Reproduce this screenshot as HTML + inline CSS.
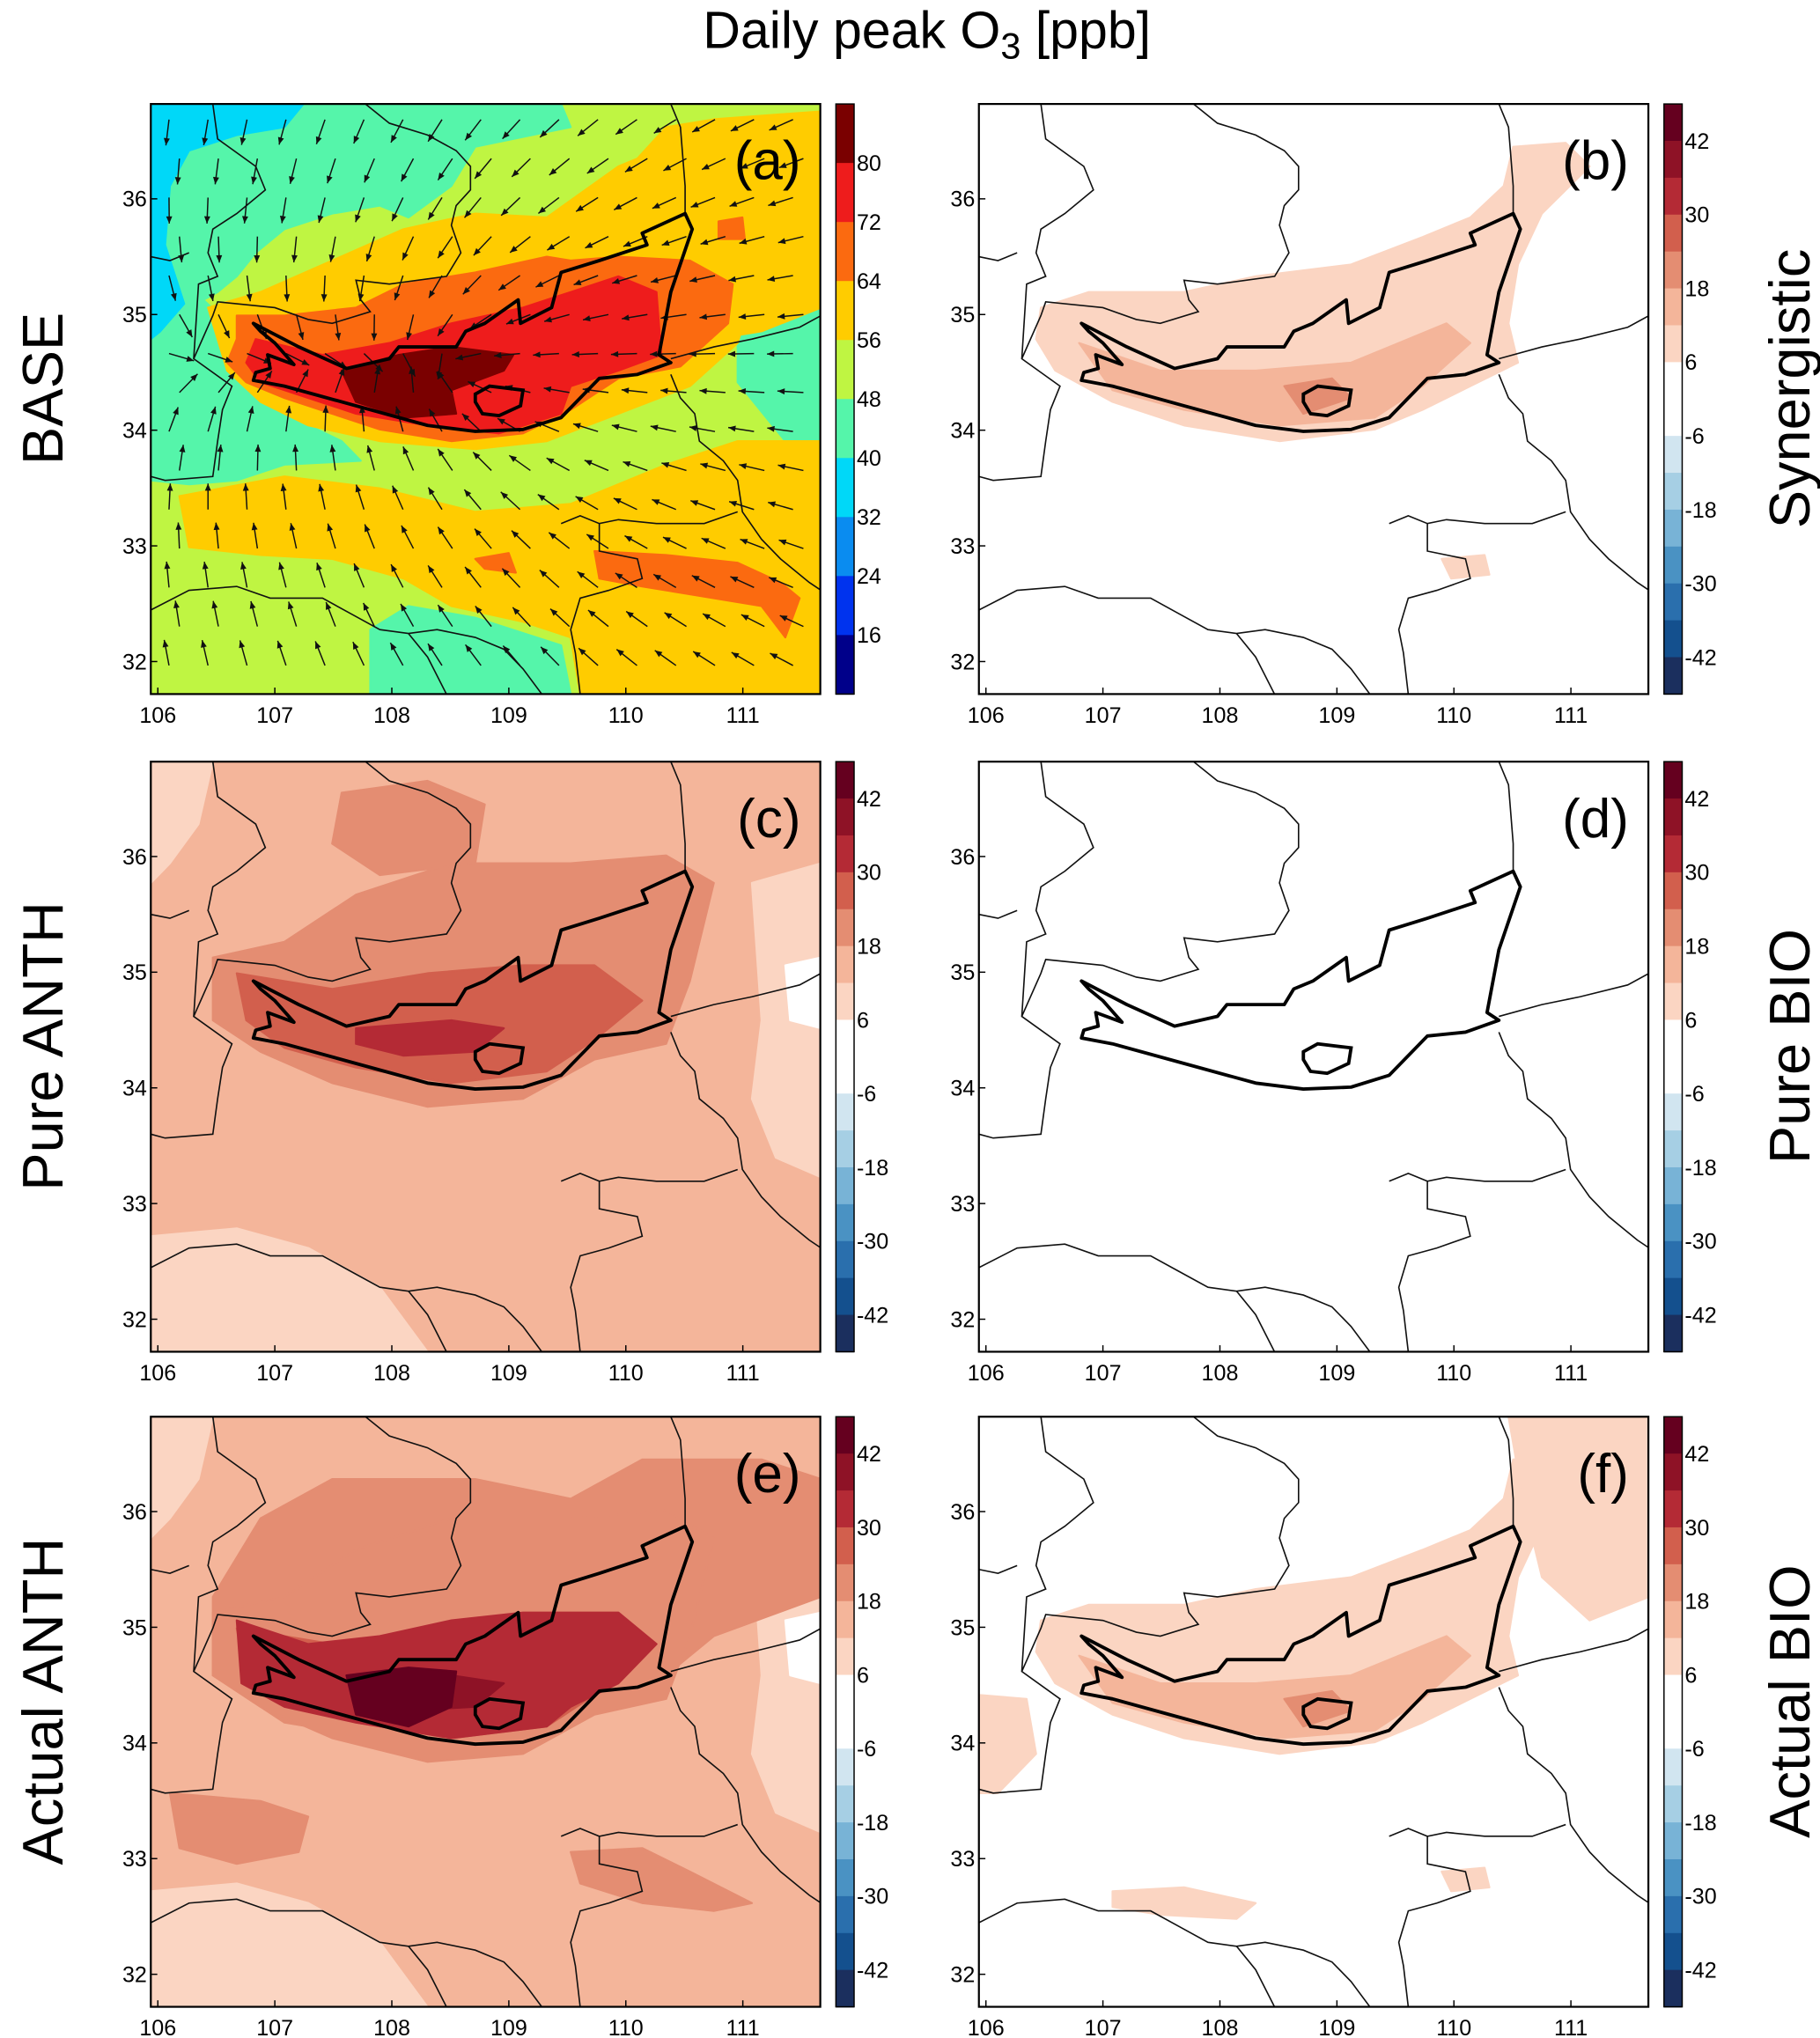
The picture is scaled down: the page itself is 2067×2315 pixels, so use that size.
<!DOCTYPE html>
<html><head><meta charset="utf-8"><style>
html,body{margin:0;padding:0;background:#fff}
svg{display:block}
text{font-family:"Liberation Sans",Arial,sans-serif}
</style></head><body>
<svg id="fig" xmlns="http://www.w3.org/2000/svg" width="2067" height="2315" viewBox="0 0 1400 1568">
<rect width="1400" height="1568" fill="#fff"/>
<text x="713" y="37" font-size="40" text-anchor="middle">Daily peak O<tspan font-size="28" dy="8">3</tspan><tspan dy="-8"> [ppb]</tspan></text>
</svg>
<script>
// ---------- data ----------
const baseLevels=[88,80,72,64,56,48,40,32,24,16,8];
const baseColors=['#7a0000','#ee1c1c','#fb6a10','#ffcc00','#bff542','#55f5aa','#00d8f8','#0a8cf0','#0033ee','#00008a'];
const baseTicks=[80,72,64,56,48,40,32,24,16];
const diffLevels=[48,42,36,30,24,18,12,6,0,-6,-12,-18,-24,-30,-36,-42,-48];
const diffColors=['#65001f','#8e1226','#b42a35','#d25f4d','#e48d72','#f4b59a','#fbd5c2','#ffffff','#ffffff','#d1e5f0','#a6cfe4','#78b3d6','#4a92c3','#2a6fad','#14508e','#1b2f5e'];
const diffTicks=[42,30,18,6,-6,-18,-30,-42];
const lonTicks=[106,107,108,109,110,111];
const latTicks=[36,35,34,33,32];
// region values per panel (ppb)
const aShapes=['mintNW','cyanNW','mintS','mintE','yellowBasin','yellowS','yellowNE','orangeBasin','orangeSE','orangeS2','orangeNE','redBasin','coreBasin'];
const aValues=[44,36,44,44,60,60,60,68,68,68,68,76,84];
const bShapes=['bandWide','smallSE','bandInner','lakeSpot'];
const bValues=[9,9,15,21];
const cShapes=['lightTL','lightR','lightBL','whiteR','bandWide2','topBlob','bandMid','bandCore'];
const cValues=[9,9,9,3,21,21,27,33];
const dShapes=[];
const dValues=[];
const eShapes=['lightTL','lightBL','lightR','whiteR','upperHalf','bandWide2','bandMid','bandInner2','bandCore','coreE','swBlob','seBlob'];
const eValues=[9,9,9,3,21,21,27,33,39,45,21,21];
const fShapes=['bandWide','neRegion','leftPatch','botPatch','smallSE','bandInner','lakeSpot'];
const fValues=[9,9,9,9,9,15,21];

// ---------- geometry (map basemap units) ----------
const SH={
mintNW:[[20,41],[880,41],[900,100],[700,150],[650,250],[560,330],[500,300],[400,320],[300,360],[240,420],[200,480],[160,520],[130,540],[200,620],[220,760],[300,830],[420,900],[460,950],[300,960],[200,1000],[100,1010],[20,1000]],
cyanNW:[[20,41],[340,41],[300,100],[200,120],[100,160],[60,250],[50,400],[90,550],[40,620],[20,640]],
mintS:[[480,1380],[560,1320],[700,1350],[880,1420],[900,1545],[480,1545]],
mintE:[[1250,560],[1425,540],[1425,900],[1350,900],[1250,750]],
yellowBasin:[[140,560],[250,520],[400,440],[550,360],[700,320],[850,330],[1000,200],[1100,150],[1250,250],[1300,450],[1250,650],[1150,760],[1000,830],[850,900],[700,920],[500,900],[350,860],[250,800],[180,720]],
yellowS:[[80,1040],[300,990],[500,1020],[700,1080],[900,1060],[1100,960],[1250,900],[1425,900],[1425,1545],[920,1545],[900,1400],[800,1360],[650,1320],[550,1250],[400,1200],[250,1190],[100,1170]],
yellowNE:[[1040,180],[1100,100],[1200,80],[1425,60],[1425,560],[1300,620],[1200,640],[1150,400]],
orangeBasin:[[200,580],[300,580],[450,560],[550,500],[700,470],[850,430],[900,440],[1000,430],[1150,440],[1240,500],[1230,600],[1130,710],[1000,740],[900,820],[800,880],[650,900],[500,870],[400,830],[300,790],[220,750],[180,700],[200,640]],
orangeSE:[[950,1180],[1100,1190],[1250,1210],[1340,1260],[1380,1300],[1350,1400],[1300,1320],[1150,1290],[1050,1270],[960,1250]],
orangeS2:[[700,1200],[770,1185],[785,1235],[720,1225]],
orangeNE:[[1210,340],[1260,330],[1265,385],[1210,385]],
redBasin:[[240,640],[380,680],[520,650],[650,600],[800,560],[900,520],[1000,480],[1080,520],[1090,680],[1000,720],[900,760],[880,830],[750,880],[600,860],[450,830],[350,790],[250,750],[220,700]],
coreBasin:[[420,720],[540,680],[650,660],[780,680],[760,720],[650,770],[660,830],[550,840],[450,800]],
bandWide:[[150,560],[250,520],[450,520],[600,480],[800,450],[950,380],[1050,330],[1120,250],[1140,150],[1250,140],[1300,200],[1200,320],[1150,450],[1130,600],[1150,700],[1050,760],[950,820],[850,870],[650,900],[450,860],[300,800],[180,720],[140,640]],
bandInner:[[230,650],[400,720],[600,720],[800,700],[900,650],[1000,600],[1050,650],[950,760],[850,840],[650,860],[450,820],[300,770]],
lakeSpot:[[660,760],[760,740],[800,790],[700,830]],
smallSE:[[990,1200],[1080,1190],[1090,1240],[1010,1250]],
lightTL:[[20,41],[150,41],[120,200],[60,300],[20,350]],
lightR:[[1280,350],[1425,300],[1425,1100],[1330,1050],[1280,900],[1300,700]],
lightBL:[[20,1250],[200,1230],[350,1280],[500,1380],[600,1545],[20,1545]],
whiteR:[[1350,560],[1425,540],[1425,720],[1360,700]],
bandWide2:[[150,540],[300,500],[450,380],[650,300],[900,300],[1100,280],[1200,350],[1150,600],[1100,760],[950,800],[800,900],[600,920],[400,860],[250,780],[150,700]],
topBlob:[[420,120],[600,90],[720,150],[700,300],[500,330],[400,250]],
bandMid:[[200,580],[400,620],[600,580],[800,560],[950,560],[1050,650],[950,750],[850,830],[650,860],[450,820],[300,770],[220,700]],
bandCore:[[450,720],[650,700],[760,720],[700,780],[550,790],[450,760]],
upperHalf:[[150,500],[250,300],[400,200],[700,200],[900,250],[1050,150],[1300,150],[1425,200],[1425,500],[1200,600],[1100,700],[700,900],[300,820],[150,700]],
bandInner2:[[200,560],[350,620],[500,600],[650,560],[800,540],[1000,540],[1080,620],[1000,720],[900,780],[850,830],[650,860],[450,820],[300,780],[210,720]],
coreE:[[430,700],[560,680],[660,690],[650,780],[560,830],[450,800]],
swBlob:[[60,1000],[250,1020],[350,1060],[330,1150],[200,1180],[80,1140]],
seBlob:[[900,1150],[1050,1140],[1150,1200],[1280,1280],[1200,1300],[1050,1280],[920,1230]],
neRegion:[[1130,41],[1425,41],[1425,500],[1300,560],[1200,450],[1160,250]],
leftPatch:[[20,750],[120,760],[140,900],[60,1000],[20,1000]],
botPatch:[[300,1250],[450,1240],[600,1280],[560,1320],[400,1310],[300,1290]]
};
const BASIN=[[235,600],[330,660],[430,715],[520,690],[540,660],[660,660],[680,620],[720,600],[790,540],[795,600],[860,560],[880,470],[960,440],[1060,400],[1050,370],[1140,320],[1155,360],[1110,520],[1085,680],[1110,700],[1040,730],[960,740],[880,840],[800,870],[700,875],[600,860],[450,810],[300,760],[235,745],[240,725],[270,715],[265,680],[320,705],[280,650],[250,620]];
const LAKE=[[700,780],[730,760],[800,770],[795,810],[750,835],[715,830],[700,800]];
const BORDERS=[
[[1110,41],[1130,100],[1140,250],[1140,320]],
[[1110,730],[1130,790],[1160,830],[1170,900],[1220,950],[1250,1000],[1260,1080],[1300,1150],[1340,1200],[1400,1260],[1425,1280]],
[[150,41],[160,130],[240,200],[260,260],[200,320],[150,360],[140,420],[160,480],[120,500],[110,690],[190,760],[170,820],[160,900],[150,990],[50,1000],[20,990]],
[[470,41],[520,90],[600,120],[660,160],[690,200],[690,260],[660,300],[650,350],[670,420],[640,480],[520,500],[450,490],[460,540],[480,570],[400,600],[350,590],[280,560],[160,545],[150,580],[110,690]],
[[1110,690],[1200,660],[1280,640],[1380,610],[1425,580]],
[[880,1110],[920,1090],[960,1110],[1000,1100],[1080,1110],[1180,1110],[1250,1080]],
[[960,1110],[960,1180],[1040,1200],[1050,1250],[980,1280],[920,1300],[900,1380],[910,1440],[920,1545]],
[[20,1330],[100,1280],[200,1270],[270,1300],[380,1300],[440,1340],[500,1380],[560,1390],[620,1380],[700,1400],[760,1430],[800,1480],[840,1545]],
[[560,1390],[600,1450],[640,1545]],
[[20,430],[60,440],[100,420]]
];

// ---------- drawing ----------
const NS='http://www.w3.org/2000/svg';
const svg=document.getElementById('fig');
const PW=515,PH=454;
function mk(tag,attrs,parent){const e=document.createElementNS(NS,tag);for(const k in attrs)e.setAttribute(k,attrs[k]);(parent||svg).appendChild(e);return e;}
function colorFor(v,levels,colors){for(let i=0;i<colors.length;i++){if(v<=levels[i]&&v>levels[i+1])return colors[i];}return v>levels[0]?colors[0]:colors[colors.length-1];}
function pts(arr,ox,oy){return arr.map(p=>(ox+0.367*(p[0]-20)).toFixed(1)+','+(oy+0.302*(p[1]-41)).toFixed(1)).join(' ');}

const panels=[
{id:'a',ox:116,oy:80,bg:52,shapes:aShapes,vals:aValues,base:true,row:'BASE',side:'left'},
{id:'b',ox:753,oy:80,bg:0,shapes:bShapes,vals:bValues,base:false,row:'Synergistic',side:'right'},
{id:'c',ox:116,oy:586,bg:15,shapes:cShapes,vals:cValues,base:false,row:'Pure ANTH',side:'left'},
{id:'d',ox:753,oy:586,bg:0,shapes:dShapes,vals:dValues,base:false,row:'Pure BIO',side:'right'},
{id:'e',ox:116,oy:1090,bg:15,shapes:eShapes,vals:eValues,base:false,row:'Actual ANTH',side:'left'},
{id:'f',ox:753,oy:1090,bg:0,shapes:fShapes,vals:fValues,base:false,row:'Actual BIO',side:'right'}
];

panels.forEach(P=>{
  const levels=P.base?baseLevels:diffLevels, colors=P.base?baseColors:diffColors;
  const g=mk('g',{});
  
  
  const clipId='clip'+P.id;
  const cp=mk('clipPath',{id:clipId},g);mk('rect',{x:P.ox,y:P.oy,width:PW,height:PH},cp);
  const mg=mk('g',{'clip-path':'url(#'+clipId+')'},g);
  const bg=mk('rect',{x:P.ox,y:P.oy,width:PW,height:PH,fill:colorFor(P.bg,levels,colors)},mg);
  
  
  P.shapes.forEach((s,i)=>{
    const poly=mk('polygon',{points:pts(SH[s],P.ox,P.oy),fill:colorFor(P.vals[i],levels,colors),'stroke':colorFor(P.vals[i],levels,colors),'stroke-width':1.5,'stroke-linejoin':'round'},mg);
    
    
  });
  if(P.base){
    const wg=mk('g',{stroke:'#111','stroke-width':1},mg);
    
    
    const cx=P.ox+0.367*(650-20), cy=P.oy+0.302*(700-41);
    for(let r=0;r<15;r++){for(let c=0;c<17;c++){
      const x=P.ox+14+c*30+(r%2)*8, y=P.oy+12+r*30;
      let dx=cx-x, dy=cy-y; const d=Math.hypot(dx,dy)||1;
      let ux=dx/d*0.7-0.6, uy=dy/d*0.9; const n=Math.hypot(ux,uy)||1; ux/=n;uy/=n;
      const L=20;
      const x2=x+ux*L,y2=y+uy*L;
      const ln=mk('line',{x1:x.toFixed(1),y1:y.toFixed(1),x2:x2.toFixed(1),y2:y2.toFixed(1)},wg);
      
      
      const a=Math.atan2(uy,ux);
      const hd=mk('polygon',{points:`${x2},${y2} ${x2-6*Math.cos(a-0.4)},${y2-6*Math.sin(a-0.4)} ${x2-6*Math.cos(a+0.4)},${y2-6*Math.sin(a+0.4)}`,fill:'#111',stroke:'none'},wg);
      
      
    }}
  }
  BORDERS.forEach(b=>{
    const pl=mk('polyline',{points:pts(b,P.ox,P.oy),fill:'none',stroke:'#111','stroke-width':1.1},mg);
    
    
  });
  const bs=mk('polygon',{points:pts(BASIN,P.ox,P.oy),fill:'none',stroke:'#000','stroke-width':2.6,'stroke-linejoin':'round'},mg);
  
  
  const lk=mk('polygon',{points:pts(LAKE,P.ox,P.oy),fill:'none',stroke:'#000','stroke-width':2.6},mg);
  
  
  const fr=mk('rect',{x:P.ox,y:P.oy,width:PW,height:PH,fill:'none',stroke:'#000','stroke-width':1.5},g);
  
  
  const xs=lon=>P.ox+(lon-105.94)*90, ys=lat=>P.oy+(36.82-lat)*89;
  lonTicks.forEach(t=>{
    const tx=mk('text',{x:xs(t),y:P.oy+PH+22,'font-size':17,'text-anchor':'middle'},g);tx.textContent=t;
    
    
    mk('line',{x1:xs(t),x2:xs(t),y1:P.oy+PH,y2:P.oy+PH-5,stroke:'#000'},g);
  });
  latTicks.forEach(t=>{
    const ty=mk('text',{x:P.ox-3,y:ys(t)+6,'font-size':17,'text-anchor':'end'},g);ty.textContent=t;
    
    
    mk('line',{x1:P.ox,x2:P.ox+5,y1:ys(t),y2:ys(t),stroke:'#000'},g);
  });
  const lt=mk('text',{x:P.ox+500,y:P.oy+58,'font-size':42,'text-anchor':'end'},g);lt.textContent='('+P.id+')';
  
  
  const cbx=P.ox+527, cbw=14;
  const cb=mk('g',{},g);
  
  
  const span=levels[0]-levels[levels.length-1];
  const cy=v=>P.oy+(levels[0]-v)/span*PH;
  colors.forEach((c,i)=>{
    const r=mk('rect',{x:cbx,y:cy(levels[i]),width:cbw,height:cy(levels[i+1])-cy(levels[i])+0.5,fill:c},cb);
    
    
  });
  mk('rect',{x:cbx,y:P.oy,width:cbw,height:PH,fill:'none',stroke:'#000','stroke-width':1},cb);
  (P.base?baseTicks:diffTicks).forEach(t=>{
    const tt=mk('text',{x:cbx+cbw+2,y:cy(t)+6,'font-size':17},cb);tt.textContent=t;
    
    
  });
  const rx=P.side==='left'?48:1392, ry=P.oy+PH/2-8;
  const rl=mk('text',{x:rx,y:ry,'font-size':44,'text-anchor':'middle',transform:`rotate(-90 ${rx} ${ry})`},g);
  rl.textContent=P.row;
  
  
});
</script>
</body></html>
